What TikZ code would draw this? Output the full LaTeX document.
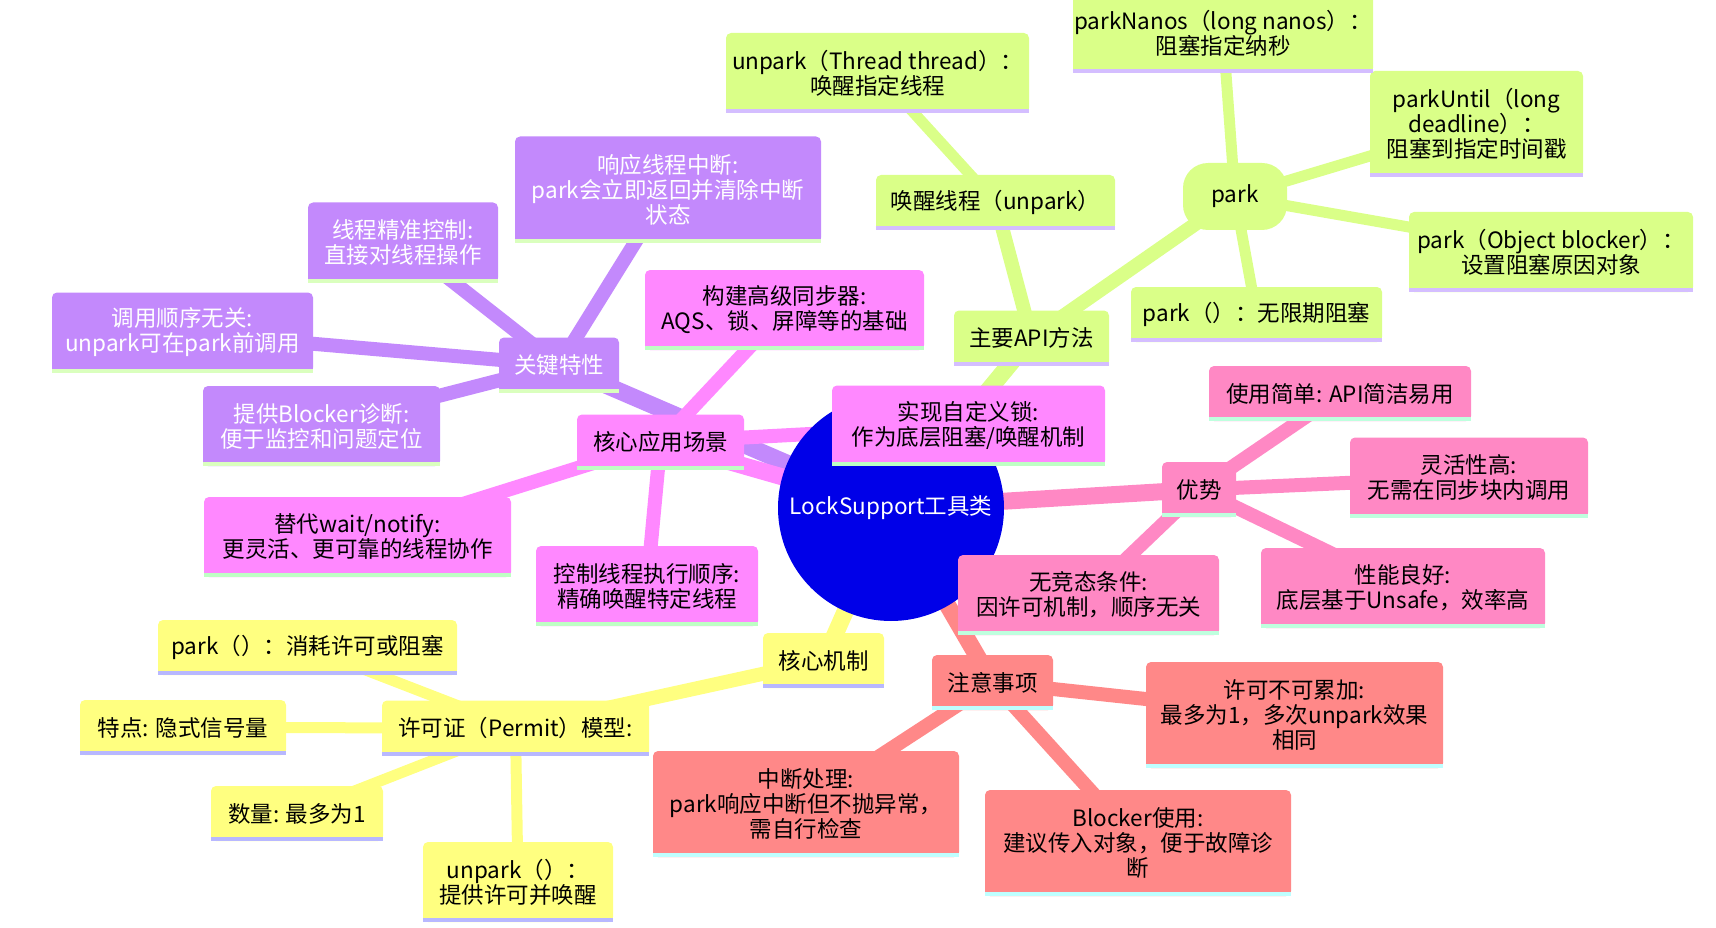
\documentclass[tikz,border=0pt]{standalone}
\usepackage{fontspec}
\setmainfont{Noto Sans CJK SC}
\usetikzlibrary{backgrounds}
\definecolor{mmroot}{HTML}{0000E8}
\definecolor{mmpurple}{HTML}{C389FC}
\definecolor{mmpurpleln}{HTML}{DAFFBE}
\definecolor{mmmagenta}{HTML}{FF88FF}
\definecolor{mmmagentaln}{HTML}{BEFFC4}
\definecolor{mmlime}{HTML}{DAFF88}
\definecolor{mmlimeln}{HTML}{D4BEFF}
\definecolor{mmyellow}{HTML}{FFFF80}
\definecolor{mmyellowln}{HTML}{B8B8FF}
\definecolor{mmpink}{HTML}{FF88C4}
\definecolor{mmpinkln}{HTML}{BEFFDE}
\definecolor{mmsalmon}{HTML}{FF8888}
\definecolor{mmsalmonln}{HTML}{BEFFFF}
\newcommand\stripe[3]{%
  \fill[#2] ([yshift=6pt]#1.south west) rectangle ([yshift=3pt]#1.south east);
  \fill[#3] ([yshift=4pt]#1.south west) rectangle (#1.south east);
}

\begin{document}
\begin{tikzpicture}[x=1pt, y=-1pt,
        every node/.style={font=\fontsize{22.5}{25}\selectfont, align=center, inner sep=0pt},
        root/.style={circle, fill=mmroot, text=white, minimum size=226pt},
        box/.style={rounded corners=5pt, minimum height=55pt},
        two/.style={minimum height=80pt},
        three/.style={minimum height=106pt},
        pu/.style={box, fill=mmpurple, text=white},
        ma/.style={box, fill=mmmagenta},
        li/.style={box, fill=mmlime},
        ye/.style={box, fill=mmyellow},
        pi/.style={box, fill=mmpink},
        sa/.style={box, fill=mmsalmon},
        e0/.style={line width=17pt},
        e1/.style={line width=14pt},
        e2/.style={line width=11pt},
      ]
      \useasboundingbox (0,0) rectangle (1716,928);

      % root
      \node[root] (root) at (891,508) {LockSupport工具类};

      % 关键特性
      \node[pu, minimum width=120pt] (key) at (559,365) {关键特性};
      \node[pu, three, minimum width=306pt] (intr) at (668,189.5) {响应线程中断:\\park会立即返回并清除中断\\状态};
      \node[pu, two, minimum width=190pt] (prec) at (403,242.5) {线程精准控制:\\直接对线程操作};
      \node[pu, two, minimum width=261pt] (order) at (182.5,332.5) {调用顺序无关:\\unpark可在park前调用};
      \node[pu, two, minimum width=237pt] (diag) at (321.5,426) {提供Blocker诊断:\\便于监控和问题定位};

      % 核心应用场景
      \node[ma, minimum width=167pt] (app) at (660.5,442) {核心应用场景};
      \node[ma, two, minimum width=279pt] (sync) at (784.5,310) {构建高级同步器:\\AQS、锁、屏障等的基础};
      \node[ma, two, minimum width=273pt] (lock) at (968.5,425.5) {实现自定义锁:\\作为底层阻塞/唤醒机制};
      \node[ma, two, minimum width=307pt] (wait) at (357.5,537) {替代wait/notify:\\更灵活、更可靠的线程协作};
      \node[ma, two, minimum width=222pt] (seq) at (647,586) {控制线程执行顺序:\\精确唤醒特定线程};

      % 主要API方法
      \node[li, minimum width=155pt] (api) at (1031.5,338) {主要API方法};
      \node[li, minimum width=239pt] (wake) at (995.5,202.5) {唤醒线程（unpark）};
      \node[li, two, minimum width=303pt] (unpk) at (877.5,73) {unpark（Thread thread）：\\唤醒指定线程};
      \node[fill=mmlime, rounded corners=25pt, minimum width=104pt, minimum height=67pt] (park) at (1235,196.5) {park};
      \node[li, two, minimum width=300pt] (nanos) at (1223,33) {parkNanos（long nanos）：\\阻塞指定纳秒};
      \node[li, three, minimum width=213pt] (until) at (1476.5,124) {parkUntil（long\\deadline）：\\阻塞到指定时间戳};
      \node[li, two, minimum width=284pt] (obj) at (1551,252) {park（Object blocker）：\\设置阻塞原因对象};
      \node[li, minimum width=251pt] (inf) at (1256.5,314.5) {park（）：无限期阻塞};

      % 核心机制
      \node[ye, minimum width=121pt] (mech) at (823.5,660.5) {核心机制};
      \node[ye, minimum width=267pt] (permit) at (515.5,728) {许可证（Permit）模型:};
      \node[ye, minimum width=299pt] (consume) at (307.5,647.5) {park（）：消耗许可或阻塞};
      \node[ye, minimum width=206pt] (feat) at (183,727.5) {特点: 隐式信号量};
      \node[ye, minimum width=172pt] (count) at (297,813.5) {数量: 最多为1};
      \node[ye, two, minimum width=190pt] (unpark) at (518,882) {unpark（）：\\提供许可并唤醒};

      % 优势
      \node[pi, minimum width=74pt] (adv) at (1199,489.5) {优势};
      \node[pi, minimum width=262pt] (easy) at (1340,393.5) {使用简单: API简洁易用};
      \node[pi, two, minimum width=238pt] (flex) at (1469,477.5) {灵活性高:\\无需在同步块内调用};
      \node[pi, two, minimum width=284pt] (perf) at (1403,588) {性能良好:\\底层基于Unsafe，效率高};
      \node[pi, two, minimum width=261pt] (race) at (1088.5,595) {无竞态条件:\\因许可机制，顺序无关};

      % 注意事项
      \node[sa, minimum width=121pt] (note) at (992.5,682.5) {注意事项};
      \node[sa, three, minimum width=297pt] (accum) at (1294.5,715) {许可不可累加:\\最多为1，多次unpark效果\\相同};
      \node[sa, three, minimum width=306pt] (intrh) at (806,804) {中断处理:\\park响应中断但不抛异常，\\需自行检查};
      \node[sa, three, minimum width=306pt] (blk) at (1138,843) {Blocker使用:\\建议传入对象，便于故障诊\\断};

      % stripes under the boxes
      \foreach \n in {key,intr,prec,order,diag} {\stripe{\n}{mmpurple}{mmpurpleln}}
      \foreach \n in {app,sync,lock,wait,seq} {\stripe{\n}{mmmagenta}{mmmagentaln}}
      \foreach \n in {api,wake,unpk,nanos,until,obj,inf} {\stripe{\n}{mmlime}{mmlimeln}}
      \foreach \n in {mech,permit,consume,feat,count,unpark} {\stripe{\n}{mmyellow}{mmyellowln}}
      \foreach \n in {adv,easy,flex,perf,race} {\stripe{\n}{mmpink}{mmpinkln}}
      \foreach \n in {note,accum,intrh,blk} {\stripe{\n}{mmsalmon}{mmsalmonln}}

      \begin{scope}[on background layer]
        \draw[e0, mmpurple] (root.center) -- (key.center);
        \foreach \n in {intr,prec,order,diag} \draw[e1, mmpurple] (key.center) -- (\n.center);
        \draw[e0, mmmagenta] (root.center) -- (app.center);
        \foreach \n in {sync,lock,wait,seq} \draw[e1, mmmagenta] (app.center) -- (\n.center);
        \draw[e0, mmlime] (root.center) -- (api.center);
        \draw[e1, mmlime] (api.center) -- (wake.center);
        \draw[e2, mmlime] (wake.center) -- (unpk.center);
        \draw[e1, mmlime] (api.center) -- (park.center);
        \foreach \n in {nanos,until,obj,inf} \draw[e2, mmlime] (park.center) -- (\n.center);
        \draw[e0, mmyellow] (root.center) -- (mech.center);
        \draw[e1, mmyellow] (mech.center) -- (permit.center);
        \foreach \n in {consume,feat,count,unpark} \draw[e2, mmyellow] (permit.center) -- (\n.center);
        \draw[e0, mmpink] (root.center) -- (adv.center);
        \foreach \n in {easy,flex,perf,race} \draw[e1, mmpink] (adv.center) -- (\n.center);
        \draw[e0, mmsalmon] (root.center) -- (note.center);
        \foreach \n in {accum,intrh,blk} \draw[e1, mmsalmon] (note.center) -- (\n.center);
      \end{scope}
    \end{tikzpicture}
\end{document}
